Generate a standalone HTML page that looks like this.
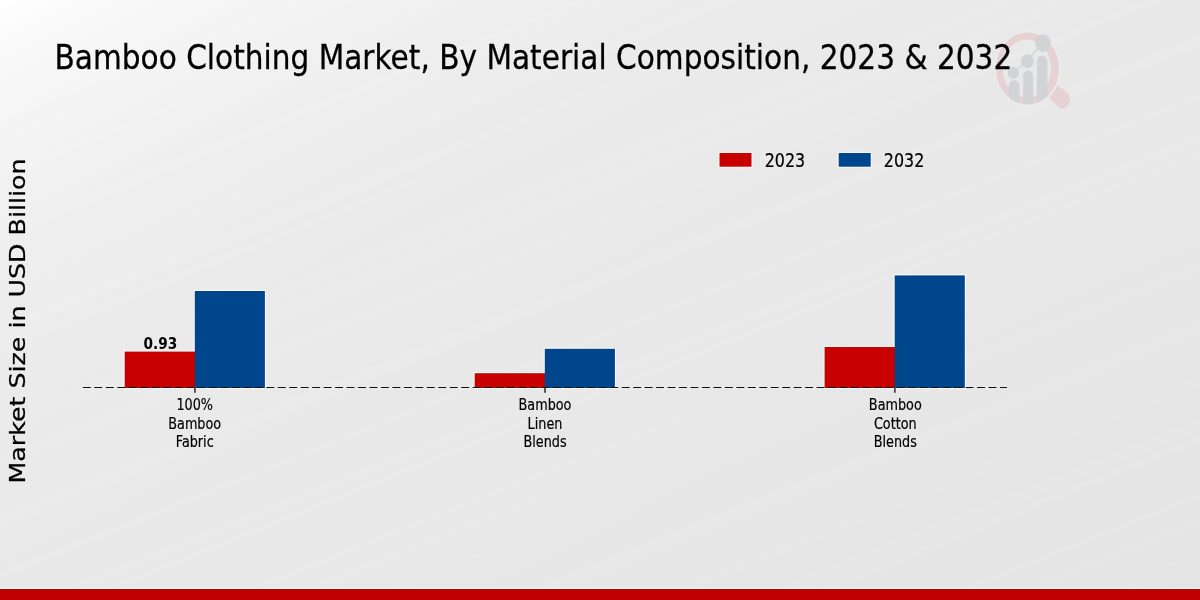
<!DOCTYPE html>
<html lang="en">
<head>
<meta charset="utf-8">
<title>Bamboo Clothing Market, By Material Composition, 2023 &amp; 2032</title>
<style>
  html, body { margin: 0; padding: 0; }
  body { width: 1200px; height: 600px; overflow: hidden; background: #e7e7e7; }
  #chart {
    position: relative; width: 1200px; height: 600px; overflow: hidden;
    background:
      repeating-linear-gradient(158.2deg, rgba(255,255,255,0) 0px, rgba(255,255,255,0.07) 4px, rgba(255,255,255,0) 11px, rgba(255,255,255,0) 53px),
      repeating-linear-gradient(158.2deg, rgba(255,255,255,0) 0px, rgba(255,255,255,0) 30px, rgba(255,255,255,0.055) 38px, rgba(255,255,255,0) 52px, rgba(255,255,255,0) 89px),
      linear-gradient(to bottom right, rgb(255,255,255) 0%, rgb(251,251,251) 3%, rgb(248,248,248) 6%, rgb(245,245,245) 10%, rgb(242,242,242) 15%, rgb(239,239,239) 20%, rgb(237,237,237) 25%, rgb(236,236,236) 30%, rgb(234,234,234) 35%, rgb(234,234,234) 40%, rgb(232,232,232) 50%, rgb(232,232,232) 60%, rgb(231,231,231) 70%, rgb(230,230,230) 80%, rgb(229,229,229) 90%, rgb(228,228,228) 100%);
    font-family: "DejaVu Sans", "Liberation Sans", sans-serif;
    color: #000;
  }
  svg { position: absolute; left: 0; top: 0; }
  text { font-family: "DejaVu Sans", "Liberation Sans", sans-serif; fill: #000; }
  .title { font-size: 34.6px; stroke: #000; stroke-width: 0.3px; }
  .ylabel { font-size: 25.3px; text-anchor: middle; stroke:#000; stroke-width:0.3px; }
  .tick { font-size: 15px; stroke:#000; stroke-width:0.2px; text-anchor: middle; }
  .legend { font-size: 19.6px; stroke:#000; stroke-width:0.25px; }
  .val { font-size: 15.7px; font-weight: bold; text-anchor: middle; }
</style>
</head>
<body>
<div id="chart">
<svg width="1200" height="600" viewBox="0 0 1200 600">
  <!-- bottom bar -->
  <rect x="0" y="587.7" width="1200" height="1.4" fill="#f0fbfb"/>
  <rect x="0" y="589" width="1200" height="11" fill="#c00000"/>

  <!-- watermark logo -->
  <defs>
    <clipPath id="lens"><ellipse cx="1027.5" cy="68.6" rx="31.5" ry="36"/></clipPath>
  </defs>
  <g id="logo">
    <path fill="#e6d1d3" d="M1057.6,85.2 L1066.8,92.2 Q1070.3,95.6 1069.9,100 Q1069.6,104.6 1066.3,107 Q1062.8,109.6 1059.3,107.9 L1049,97.9 Q1054.6,92 1057.6,85.2 Z"/>
    <ellipse cx="1027.5" cy="68.6" rx="32.2" ry="36.7" fill="none" stroke="#ececec" stroke-width="1.4"/>
    <path fill="#e6d1d3" fill-rule="evenodd" d="M996,68.6 a31.5,36 0 1,0 63,0 a31.5,36 0 1,0 -63,0 Z M1002.9,68.6 a24.1,29.2 0 1,0 48.2,0 a24.1,29.2 0 1,0 -48.2,0 Z"/>
    <g clip-path="url(#lens)" fill="#d2d3d7">
      <rect x="1008.9" y="80.3" width="10.6" height="40" rx="5.3" ry="5.6"/>
      <rect x="1023.1" y="70.6" width="10" height="50" rx="5" ry="5.6"/>
      <rect x="1037" y="55.6" width="10.4" height="60" rx="5.2" ry="5.6"/>
    </g>
    <g stroke="#d2d3d7" stroke-width="1.4" fill="none">
      <line x1="1013.2" y1="72.6" x2="1027.2" y2="60.4"/>
      <line x1="1027.2" y1="60.4" x2="1042.6" y2="42.9"/>
    </g>
    <g fill="#d2d3d7">
      <ellipse cx="1013.25" cy="72.85" rx="5.5" ry="6.1"/>
      <ellipse cx="1027.5" cy="61.2" rx="6.3" ry="7"/>
      <ellipse cx="1042.9" cy="43.1" rx="7.9" ry="8.8"/>
    </g>
  </g>

  <!-- title -->
  <text class="title" transform="translate(54.5,68.75) scale(0.8556,1)">Bamboo Clothing Market, By Material Composition, 2023 &amp; 2032</text>

  <!-- y label -->
  <text class="ylabel" transform="translate(25,321) scale(0.84,1) rotate(-90)">Market Size in USD Billion</text>

  <!-- legend -->
  <rect x="718.3" y="151.8" width="34.4" height="16.1" fill="#f4f8f7"/>
  <rect x="719.5" y="153" width="32" height="13.7" fill="#c80000"/>
  <text class="legend" transform="translate(764.7,166.9) scale(0.812,1)">2023</text>
  <rect x="837.5" y="151.8" width="34.4" height="16.1" fill="#f8f5f1"/>
  <rect x="838.7" y="153" width="32" height="13.7" fill="#00468c"/>
  <text class="legend" transform="translate(883.8,166.9) scale(0.812,1)">2032</text>

  <!-- bars -->
  <g>
    <rect x="123.5" y="350.4" width="72.5" height="38.8" fill="#ecfafa"/>
    <rect x="193.6" y="289.8" width="72.5" height="99.4" fill="#faf6f1"/>
    <rect x="473.5" y="372.0" width="72.5" height="17.2" fill="#ecfafa"/>
    <rect x="543.6" y="347.6" width="72.5" height="41.6" fill="#faf6f1"/>
    <rect x="823.4" y="345.8" width="72.5" height="43.4" fill="#ecfafa"/>
    <rect x="893.5" y="274.2" width="72.5" height="115.0" fill="#faf6f1"/>
  </g>
  <g>
    <rect x="124.7" y="351.6" width="70.7" height="36.4" fill="#c80000"/>
    <rect x="194.8" y="291.0" width="70.1" height="97.0" fill="#00468c"/>
    <rect x="474.7" y="373.2" width="70.7" height="14.8" fill="#c80000"/>
    <rect x="544.8" y="348.8" width="70.1" height="39.2" fill="#00468c"/>
    <rect x="824.6" y="347.0" width="70.7" height="41.0" fill="#c80000"/>
    <rect x="894.7" y="275.4" width="70.1" height="112.6" fill="#00468c"/>
  </g>

  <!-- axis -->
  <line x1="82.9" y1="387.5" x2="1007" y2="387.5" stroke="#111" stroke-width="1.1" stroke-dasharray="7.9 3.564"/>
  <line x1="194.95" y1="388" x2="194.95" y2="392.7" stroke="#000" stroke-width="1.25"/>
  <line x1="545.0" y1="388" x2="545.0" y2="392.7" stroke="#000" stroke-width="1.25"/>
  <line x1="894.9" y1="388" x2="894.9" y2="392.7" stroke="#000" stroke-width="1.25"/>

  <!-- value -->
  <text class="val" transform="translate(160.3,348.7) scale(0.872,1)">0.93</text>

  <!-- tick labels -->
  <text class="tick" transform="translate(194.7,409.9) scale(0.854,1)">100%</text>
  <text class="tick" transform="translate(194.7,428.6) scale(0.854,1)">Bamboo</text>
  <text class="tick" transform="translate(194.7,447.3) scale(0.854,1)">Fabric</text>
  <text class="tick" transform="translate(545,409.9) scale(0.854,1)">Bamboo</text>
  <text class="tick" transform="translate(545,428.6) scale(0.854,1)">Linen</text>
  <text class="tick" transform="translate(545,447.3) scale(0.854,1)">Blends</text>
  <text class="tick" transform="translate(895.3,409.9) scale(0.854,1)">Bamboo</text>
  <text class="tick" transform="translate(895.3,428.6) scale(0.854,1)">Cotton</text>
  <text class="tick" transform="translate(895.3,447.3) scale(0.854,1)">Blends</text>

</svg>
</div>
</body>
</html>
